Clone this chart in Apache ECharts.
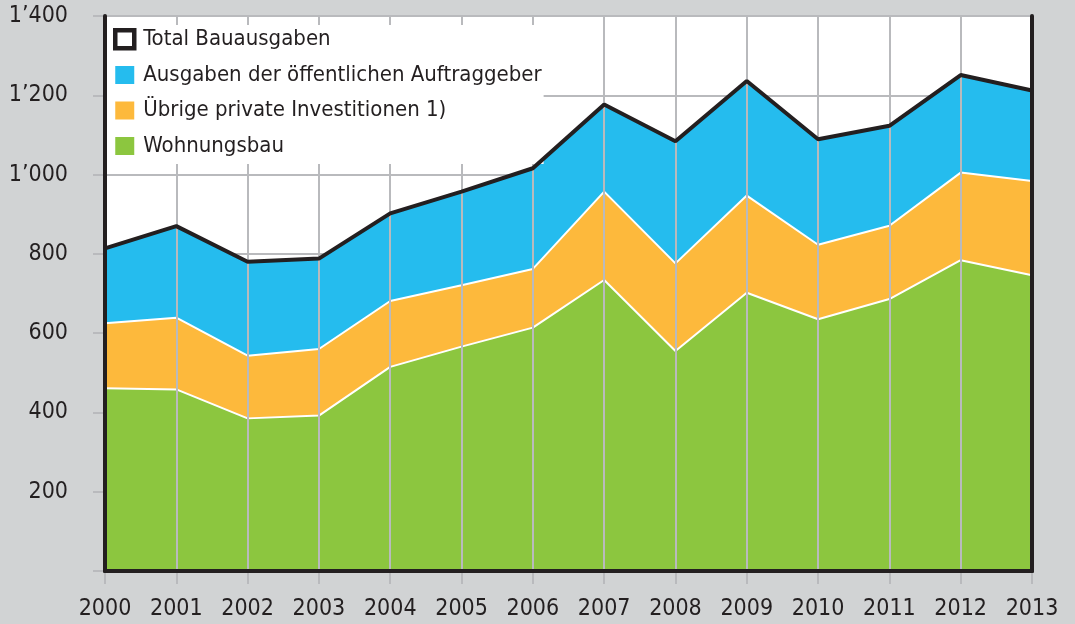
<!DOCTYPE html>
<html>
<head>
<meta charset="utf-8">
<script src="https://cdn.jsdelivr.net/npm/echarts@6/dist/echarts.min.js"></script>
<style>
html,body{margin:0;padding:0;background:#d1d3d4;}
#main{width:1075px;height:624px;}
</style>
</head>
<body>
<div id="main"></div>
<script>
// Jahre und Werte (Mio.)
var jahre=['2000','2001','2002','2003','2004','2005','2006','2007','2008','2009','2010','2011','2012','2013'];
var wohnungsbau=[461,458,385,392,515,566,614,734,555,702,635,686,784,746];
var privat=[164,181,158,168,166,155,148,223,221,245,188,185,221,238];
var oeffentlich=[189,231,237,228,221,236,254,220,308,289,266,252,246,228];
var namen=['Total Bauausgaben','Ausgaben der öffentlichen Auftraggeber','Übrige private Investitionen 1)','Wohnungsbau'];

var schrift="'Liberation Sans Narrow','DejaVu Sans Condensed',sans-serif";
var dunkel='#231f20';
var grau='#b9babd';

// Total = Summe der drei Teile
var total=[];
for(var i=0;i<jahre.length;i++){
	total.push(wohnungsbau[i]+privat[i]+oeffentlich[i]);
}

function fmt(v){
	if(v===0) return '';
	if(v>=1000){
		var r=String(v%1000);
		while(r.length<3) r='0'+r;
		return Math.floor(v/1000)+'\u2019'+r;
	}
	return String(v);
}

var myChart=echarts.init(document.getElementById('main'));
var option={
	backgroundColor:'#d1d3d4',
	animation:false,
	textStyle:{fontFamily:schrift},
	grid:{left:105,right:43,top:16,bottom:53,show:true,backgroundColor:'#fff',borderWidth:0},
	legend:{
		orient:'vertical',
		left:107,top:25,
		padding:[3,2,7,6],
		backgroundColor:'#fff',
		z:8,
		itemWidth:19,itemHeight:18,itemGap:13.5,
		textStyle:{fontSize:22,color:dunkel,fontFamily:schrift,padding:[0,0,0,4]},
		data:[
			{name:namen[0],icon:'rect',itemStyle:{color:'#fff',borderColor:dunkel,borderWidth:4.5}},
			{name:namen[1],icon:'rect',itemStyle:{color:'#25bcee',borderWidth:0}},
			{name:namen[2],icon:'rect',itemStyle:{color:'#fdb93c',borderWidth:0}},
			{name:namen[3],icon:'rect',itemStyle:{color:'#8cc63f',borderWidth:0}}
		]
	},
	xAxis:[{
		type:'category',
		data:jahre,
		boundaryGap:false,
		z:7,
		axisLine:{show:true,lineStyle:{color:dunkel,width:4}},
		axisTick:{show:true,length:13,interval:0,lineStyle:{color:grau,width:2}},
		axisLabel:{fontSize:23,color:dunkel,margin:27,interval:0,fontFamily:schrift},
		splitLine:{show:true,interval:0,lineStyle:{color:grau,width:2}}
	},{
		type:'category',
		data:jahre,
		boundaryGap:false,
		position:'top',
		z:10,
		axisLine:{show:true,lineStyle:{color:dunkel,width:4}},
		axisTick:{show:false},
		axisLabel:{show:false},
		splitLine:{show:false}
	}],
	yAxis:[{
		type:'value',
		min:0,max:1400,interval:200,
		z:0,
		axisLine:{show:false},
		axisTick:{show:true,length:12,lineStyle:{color:grau,width:2}},
		axisLabel:{fontSize:23,color:dunkel,margin:37,fontFamily:schrift,formatter:fmt},
		splitLine:{show:true,lineStyle:{color:grau,width:2}}
	},{
		type:'value',
		min:0,max:1400,interval:200,
		position:'right',
		z:10,
		axisLine:{show:true,lineStyle:{color:dunkel,width:4}},
		axisTick:{show:false},
		axisLabel:{show:false},
		splitLine:{show:false}
	},{
		type:'value',
		min:0,max:1400,interval:200,
		position:'left',
		offset:0,
		z:10,
		axisLine:{show:true,lineStyle:{color:dunkel,width:4}},
		axisTick:{show:false},
		axisLabel:{show:false},
		splitLine:{show:false}
	}],
	series:[{
		name:namen[3],
		type:'line',
		stack:'bau',
		z:6,
		data:wohnungsbau,
		symbol:'none',
		color:'#8cc63f',
		lineStyle:{color:'#fff',width:2},
		areaStyle:{color:'#8cc63f',opacity:1}
	},{
		name:namen[2],
		type:'line',
		stack:'bau',
		z:5,
		data:privat,
		symbol:'none',
		color:'#fdb93c',
		lineStyle:{color:'#fff',width:2},
		areaStyle:{color:'#fdb93c',opacity:1}
	},{
		name:namen[1],
		type:'line',
		stack:'bau',
		z:4,
		data:oeffentlich,
		symbol:'none',
		color:'#25bcee',
		lineStyle:{width:0},
		areaStyle:{color:'#25bcee',opacity:1}
	},{
		name:namen[0],
		type:'line',
		z:9,
		data:total,
		symbol:'none',
		color:dunkel,
		lineStyle:{color:dunkel,width:4}
	}]
};
myChart.setOption(option);
</script>
</body>
</html>
